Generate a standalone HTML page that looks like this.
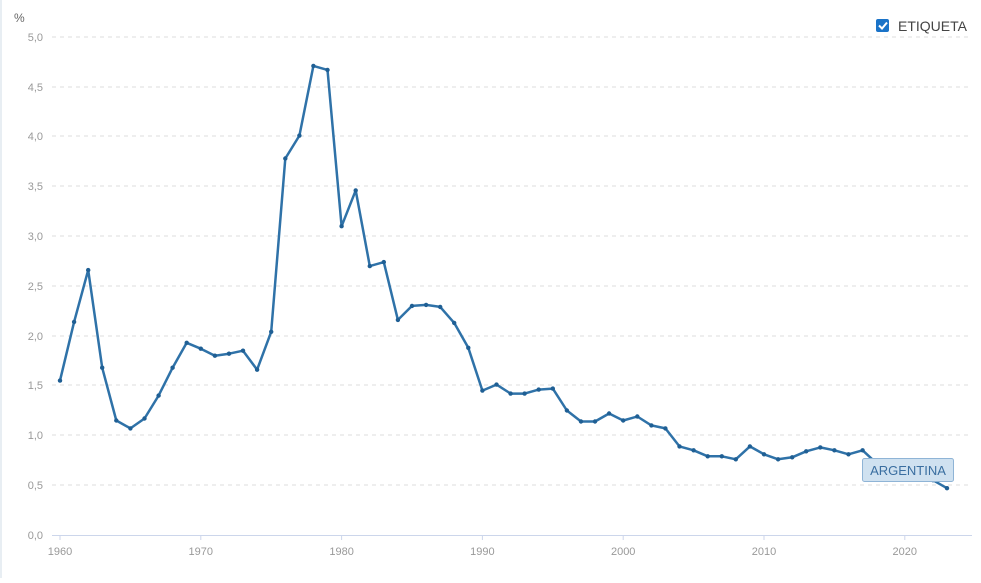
<!DOCTYPE html>
<html><head><meta charset="utf-8"><style>
body{margin:0;background:#fff;width:981px;height:578px;overflow:hidden;font-family:"Liberation Sans",sans-serif}
</style></head><body>
<svg width="981" height="578" xmlns="http://www.w3.org/2000/svg" font-family="Liberation Sans, sans-serif">
<rect x="0" y="0" width="2" height="578" fill="#e8eef3"/>
<text x="14" y="22" font-size="12" fill="#666">%</text>
<g stroke="#dcdcdc" stroke-dasharray="4,4" stroke-width="1">
<line x1="52" x2="972" y1="37" y2="37"/><line x1="52" x2="972" y1="87" y2="87"/>
<line x1="52" x2="972" y1="136" y2="136"/><line x1="52" x2="972" y1="186" y2="186"/>
<line x1="52" x2="972" y1="236" y2="236"/><line x1="52" x2="972" y1="286" y2="286"/>
<line x1="52" x2="972" y1="336" y2="336"/><line x1="52" x2="972" y1="385" y2="385"/>
<line x1="52" x2="972" y1="435" y2="435"/><line x1="52" x2="972" y1="485" y2="485"/>
</g>
<line x1="52" x2="972" y1="535.5" y2="535.5" stroke="#ccd6eb"/>
<g stroke="#ccd6eb"><line x1="60" x2="60" y1="536" y2="540"/><line x1="200.8" x2="200.8" y1="536" y2="540"/><line x1="341.6" x2="341.6" y1="536" y2="540"/><line x1="482.4" x2="482.4" y1="536" y2="540"/><line x1="623.2" x2="623.2" y1="536" y2="540"/><line x1="764" x2="764" y1="536" y2="540"/><line x1="904.8" x2="904.8" y1="536" y2="540"/></g>
<g font-size="11" fill="#999" text-anchor="end">
<text x="43" y="41">5,0</text><text x="43" y="91">4,5</text><text x="43" y="140">4,0</text><text x="43" y="190">3,5</text><text x="43" y="240">3,0</text><text x="43" y="290">2,5</text><text x="43" y="340">2,0</text><text x="43" y="389">1,5</text><text x="43" y="439">1,0</text><text x="43" y="489">0,5</text><text x="43" y="539">0,0</text>
</g>
<g font-size="11" fill="#999" text-anchor="middle">
<text x="60" y="555">1960</text><text x="200.8" y="555">1970</text><text x="341.6" y="555">1980</text><text x="482.4" y="555">1990</text><text x="623.2" y="555">2000</text><text x="764" y="555">2010</text><text x="904.8" y="555">2020</text>
</g>
<g id="s"></g>
<rect x="876" y="19" width="13" height="13" rx="2" fill="#1a73c8"/>
<path d="M879 25.5l3 3 5-6" stroke="#fff" stroke-width="2" fill="none"/>
<text x="898" y="31" font-size="14" fill="#444">ETIQUETA</text>
<rect x="862.5" y="458.5" width="91" height="23" rx="2" fill="#cfe1f0" stroke="#8fb4d6"/>
<text x="908" y="475" font-size="13" fill="#3a6ea0" text-anchor="middle">ARGENTINA</text>
</svg>
<script>
var v=[1.55,2.14,2.66,1.68,1.15,1.07,1.17,1.40,1.68,1.93,1.87,1.80,1.82,1.85,1.66,2.04,3.78,4.01,4.71,4.67,3.10,3.46,2.70,2.74,2.16,2.30,2.31,2.29,2.13,1.88,1.45,1.51,1.42,1.42,1.46,1.47,1.25,1.14,1.14,1.22,1.15,1.19,1.10,1.07,0.89,0.85,0.79,0.79,0.76,0.89,0.81,0.76,0.78,0.84,0.88,0.85,0.81,0.85,0.72,0.68,0.62,0.60,0.55,0.47];
var ns="http://www.w3.org/2000/svg",g=document.getElementById('s'),pts=[];
v.forEach(function(d,i){var x=60+i*14.08,y=535-d*99.6;pts.push(x.toFixed(1)+','+y.toFixed(1));});
var p=document.createElementNS(ns,'polyline');p.setAttribute('points',pts.join(' '));p.setAttribute('fill','none');p.setAttribute('stroke','#2f72a8');p.setAttribute('stroke-width','2.5');p.setAttribute('stroke-linejoin','round');g.appendChild(p);
pts.forEach(function(s){var a=s.split(','),c=document.createElementNS(ns,'circle');c.setAttribute('cx',a[0]);c.setAttribute('cy',a[1]);c.setAttribute('r','2.2');c.setAttribute('fill','#1f5f94');g.appendChild(c);});
</script>
</body></html>
